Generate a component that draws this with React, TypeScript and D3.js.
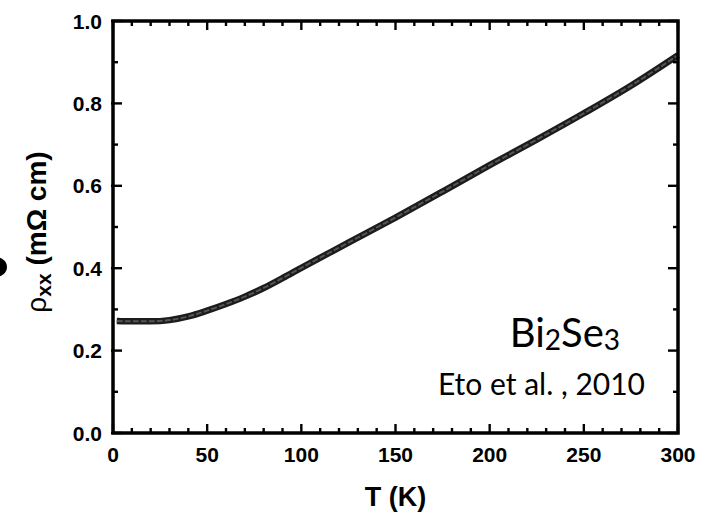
import { useRef, useEffect } from "react";
import * as d3 from "d3";

// rho_xx vs T (Bi2Se3, Eto et al. 2010)
const temps = [2, 10, 20, 30, 40, 50, 60, 70, 80, 90, 100, 125, 150, 175, 200, 225, 250, 275, 300];
const rhoValues = [
  0.272, 0.271, 0.271, 0.274, 0.283, 0.297, 0.313, 0.331, 0.352, 0.376, 0.401, 0.462, 0.523,
  0.586, 0.65, 0.712, 0.776, 0.843, 0.917,
];
const xTicks = [0, 50, 100, 150, 200, 250, 300];
const yTicks = [0.0, 0.2, 0.4, 0.6, 0.8, 1.0];

const WIDTH = 715;
const HEIGHT = 515;
const margin = { top: 21, right: 37, bottom: 82, left: 113 };
const TICK_FONT = "'Liberation Sans', Arial, sans-serif";
const NOTE_FONT = "Lato, 'Open Sans', sans-serif";

const App = () => {
  const svgRef = useRef<SVGSVGElement>(null);

  useEffect(() => {
    const svg = d3.select(svgRef.current);
    svg.selectAll("*").remove();

    const chartWidth = WIDTH - margin.left - margin.right;
    const chartHeight = HEIGHT - margin.top - margin.bottom;

    const xScale = d3.scaleLinear().domain([0, 300]).range([0, chartWidth]);
    const yScale = d3.scaleLinear().domain([0, 1]).range([chartHeight, 0]);

    const g = svg.append("g").attr("transform", `translate(${margin.left},${margin.top})`);

    const data = temps.map((t, i) => ({ t, rho: rhoValues[i] }));

    const line = d3
      .line<{ t: number; rho: number }>()
      .x((d) => xScale(d.t))
      .y((d) => yScale(d.rho))
      .curve(d3.curveMonotoneX);

    // thick data band (dense points in original)
    g.append("path")
      .datum(data)
      .attr("fill", "none")
      .attr("stroke", "#1c1c1c")
      .attr("stroke-width", 6.5)
      .attr("d", line);
    g.append("path")
      .datum(data)
      .attr("fill", "none")
      .attr("stroke", "#555")
      .attr("stroke-width", 2)
      .attr("stroke-dasharray", "6,2")
      .attr("d", line);

    // ticks on all four sides, pointing inward
    const minorX = d3.range(0, 301, 10);
    const minorY = d3.range(0, 1.0001, 0.1);
    const tickW = 2.4;

    const isMajorX = (v: number) => v % 50 === 0;
    const isMajorY = (v: number) => Math.round(v * 10) % 2 === 0;

    g.selectAll(".tick-b")
      .data(minorX)
      .enter()
      .append("line")
      .attr("x1", (d) => xScale(d))
      .attr("x2", (d) => xScale(d))
      .attr("y1", chartHeight)
      .attr("y2", (d) => chartHeight - (isMajorX(d) ? 9 : 5))
      .attr("stroke", "#000")
      .attr("stroke-width", tickW);

    g.selectAll(".tick-t")
      .data(minorX)
      .enter()
      .append("line")
      .attr("x1", (d) => xScale(d))
      .attr("x2", (d) => xScale(d))
      .attr("y1", 0)
      .attr("y2", (d) => (isMajorX(d) ? 9 : 5))
      .attr("stroke", "#000")
      .attr("stroke-width", tickW);

    g.selectAll(".tick-l")
      .data(minorY)
      .enter()
      .append("line")
      .attr("x1", (d) => (isMajorY(d) ? -2 : 0))
      .attr("x2", (d) => (isMajorY(d) ? 9 : 5))
      .attr("y1", (d) => yScale(d))
      .attr("y2", (d) => yScale(d))
      .attr("stroke", "#000")
      .attr("stroke-width", tickW);

    g.selectAll(".tick-r")
      .data(minorY)
      .enter()
      .append("line")
      .attr("x1", chartWidth)
      .attr("x2", (d) => chartWidth - (isMajorY(d) ? 10 : 5))
      .attr("y1", (d) => yScale(d))
      .attr("y2", (d) => yScale(d))
      .attr("stroke", "#000")
      .attr("stroke-width", tickW);

    // frame
    g.append("rect")
      .attr("x", 0)
      .attr("y", 0)
      .attr("width", chartWidth)
      .attr("height", chartHeight)
      .attr("fill", "none")
      .attr("stroke", "#000")
      .attr("stroke-width", 3.5);

    // tick labels
    g.selectAll(".xlab")
      .data(xTicks)
      .enter()
      .append("text")
      .attr("x", (d) => xScale(d))
      .attr("y", chartHeight + 29)
      .attr("text-anchor", "middle")
      .style("font-family", TICK_FONT)
      .style("font-weight", "bold")
      .style("font-size", "21px")
      .text((d) => d3.format("d")(d));

    g.selectAll(".ylab")
      .data(yTicks)
      .enter()
      .append("text")
      .attr("x", -11)
      .attr("y", (d) => yScale(d))
      .attr("dy", "0.36em")
      .attr("text-anchor", "end")
      .style("font-family", TICK_FONT)
      .style("font-weight", "bold")
      .style("font-size", "21px")
      .text((d) => d3.format(".1f")(d));

    // axis titles
    svg
      .append("text")
      .attr("x", margin.left + chartWidth / 2)
      .attr("y", 506)
      .attr("text-anchor", "middle")
      .style("font-family", TICK_FONT)
      .style("font-weight", "bold")
      .style("font-size", "27px")
      .text("T (K)");

    const yl = svg
      .append("text")
      .attr("transform", "translate(46,232) rotate(-90)")
      .attr("text-anchor", "middle")
      .style("font-family", TICK_FONT)
      .style("font-size", "28px");
    yl.append("tspan").text("ρ");
    yl.append("tspan")
      .attr("dy", 5)
      .style("font-weight", "bold")
      .style("font-size", "21px")
      .text("xx");
    yl.append("tspan").attr("dy", -5).style("font-weight", "bold").text(" (mΩ cm)");

    // remnant of a clipped glyph at the left edge
    svg
      .append("ellipse")
      .attr("cx", -4)
      .attr("cy", 267)
      .attr("rx", 11)
      .attr("ry", 10)
      .attr("fill", "#000");

    // annotations
    const chem = svg
      .append("text")
      .attr("x", 620)
      .attr("y", 347)
      .attr("text-anchor", "end")
      .style("font-family", NOTE_FONT)
      .style("font-size", "40px");
    chem.append("tspan").text("Bi");
    chem.append("tspan").attr("dy", 3).style("font-size", "28px").text("2");
    chem.append("tspan").attr("dy", -3).text("Se");
    chem.append("tspan").attr("dy", 3).style("font-size", "28px").text("3");

    svg
      .append("text")
      .attr("x", 645)
      .attr("y", 395)
      .attr("text-anchor", "end")
      .style("font-family", NOTE_FONT)
      .style("font-size", "30px")
      .text("Eto et al. , 2010");
  }, []);

  return (
    <svg
      ref={svgRef}
      width={WIDTH}
      height={HEIGHT}
      style={{ position: "absolute", left: 0, top: 0, background: "#fff" }}
    ></svg>
  );
};

export default App;
